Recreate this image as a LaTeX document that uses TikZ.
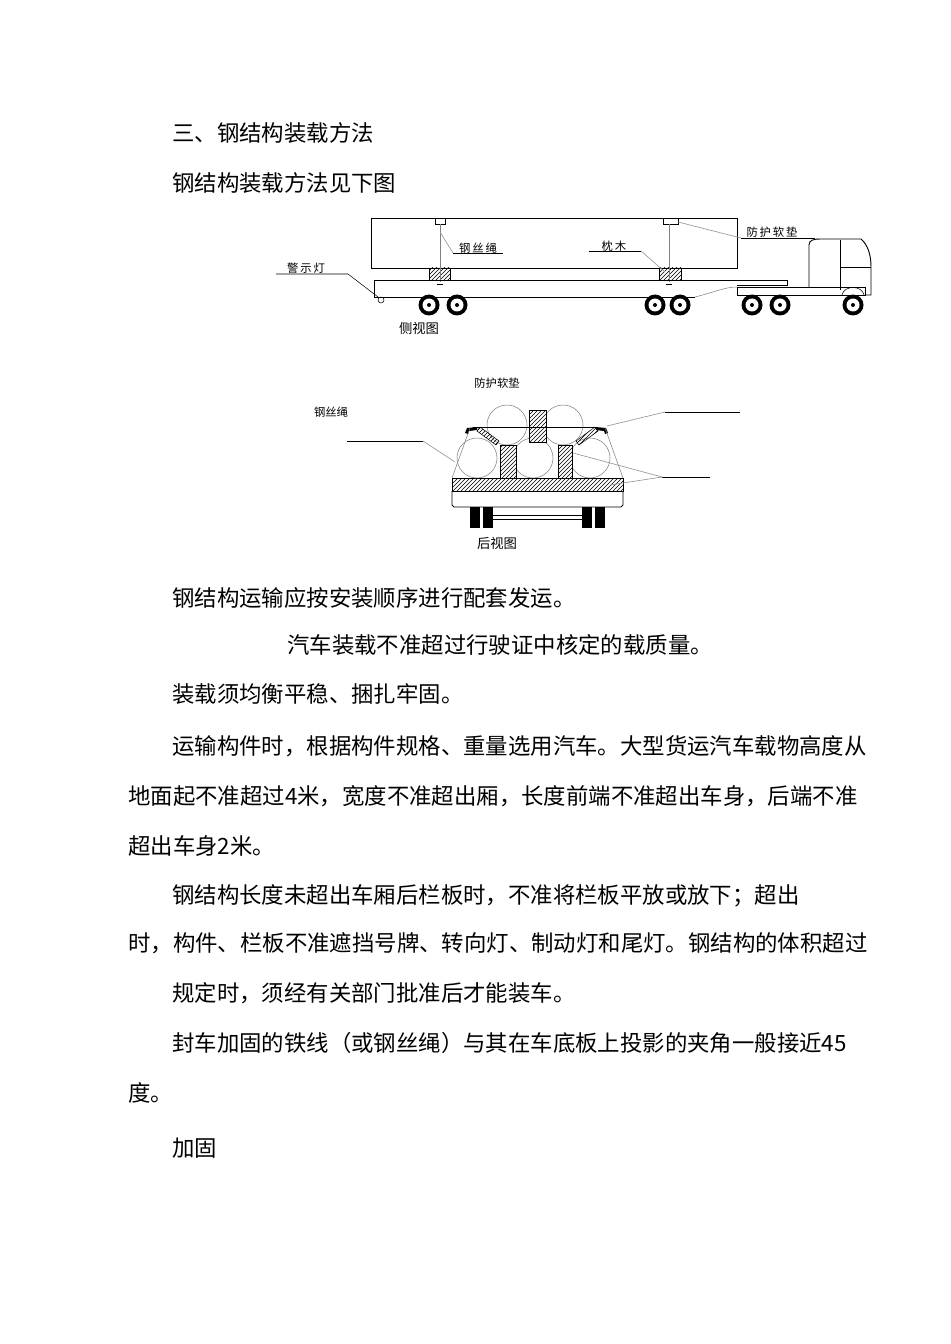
\documentclass[tikz,border=0pt]{standalone}
\usepackage{fontspec}
\newfontfamily\cjk{Noto Sans CJK SC}
\usetikzlibrary{patterns}
\tikzset{
  body/.style={anchor=west,inner sep=0pt,font=\cjk\fontsize{16.8}{18}\selectfont},
  lab/.style={inner sep=0pt,font=\cjk\fontsize{8.5}{10}\selectfont},
  lead/.style={draw=gray!80,line width=0.5pt},
  hat/.style={draw,pattern=north east lines},
  ln/.style={line width=0.7pt},
}
\begin{document}
\begin{tikzpicture}[x=0.75pt,y=-0.75pt]
\useasboundingbox (0,0) rectangle (950,1344);
% text
\node[body] (t1) at (172,133) {三、钢结构装载方法};
\node[body] (t2) at (172,183) {钢结构装载方法见下图};
\node[body] (t3) at (172,598) {钢结构运输应按安装顺序进行配套发运。};
\node[body] (t4) at (287,645) {汽车装载不准超过行驶证中核定的载质量。};
\node[body] (t5) at (172,694) {装载须均衡平稳、捆扎牢固。};
\node[body] (t6) at (172,746) {运输构件时，根据构件规格、重量选用汽车。大型货运汽车载物高度从};
\node[body] (t7) at (128,796) {地面起不准超过4米，宽度不准超出厢，长度前端不准超出车身，后端不准};
\node[body] (t8) at (128,846) {超出车身2米。};
\node[body] (t9) at (172,896) {钢结构长度未超出车厢后栏板时，不准将栏板平放或放下；超出};
\node[body] (t10) at (128,943) {时，构件、栏板不准遮挡号牌、转向灯、制动灯和尾灯。钢结构的体积超过};
\node[body] (t11) at (172,993) {规定时，须经有关部门批准后才能装车。};
\node[body] (t12) at (172,1043) {封车加固的铁线（或钢丝绳）与其在车底板上投影的夹角一般接近45};
\node[body] (t13) at (128,1093) {度。};
\node[body] (t14) at (172,1148) {加固};

% ===== side view =====
\draw[ln] (371,218) rectangle (737,268);
\draw (435,218) rectangle (445,224);
\draw (663,218) rectangle (678,224);
\draw[hat] (429,268) rectangle (450,280);
\draw[hat] (659,268) rectangle (681,280);
\draw[gray] (440,224) -- (440,282);
\draw[gray] (669,224) -- (669,282);
\draw (437,284) -- (443,284); \draw (666,284) -- (672,284);
% deck
\draw[ln] (374,280) -- (787,280) -- (787,285) -- (737,285);
\draw[ln] (374,280) -- (374,297) -- (695,297);
\draw[gray] (695,297) .. controls (715,292) and (725,287) .. (737,287);
% truck
\draw[ln] (737,287) rectangle (865,295);
\draw[ln] (809,287) -- (809,245) .. controls (809,240) and (814,239) .. (820,239)
  -- (861,239) .. controls (868,245) and (871,255) .. (871,267) -- (871,295) -- (865,295);
\draw (840,240) -- (840,290);
\draw (840,267) -- (871,267);
\draw (842,295) .. controls (844,285) and (862,285) .. (864,295);
% wheels
\foreach \i/\x in {w1/429,w2/457,w3/655,w4/680,w5/752,w6/780,w7/853}{
  \fill (\x,305) circle (10.5);
  \fill[white] (\x,305) circle (6.5);
  \fill (\x,305) circle (2);
}
% labels side
\node[lab] (l1) at (306,268) {警\,示\,灯};
\draw (276,274) -- (348,274) -- (378,297);
\draw (381,300) circle (3);
\node[lab] (l2) at (478,248) {钢\,丝\,绳};
\draw (453,253) -- (503,253);
\draw[lead] (453,253) -- (440,232);
\node[lab] (l3) at (614,246) {枕\,木};
\draw (589,251) -- (641,251);
\draw[lead] (641,251) -- (665,272);
\node[lab] (l4) at (772,232) {防\,护\,软\,垫};
\draw (741,238) -- (815,238);
\draw[lead] (741,238) -- (678,222);
\node[lab,font=\cjk\fontsize{10}{12}\selectfont] (l5) at (419,328) {侧视图};

% ===== rear view =====
\node[lab] (r1) at (497,383) {防护软垫};
\node[lab] (r2) at (331,412) {钢丝绳};
\draw[hat] (452,478) rectangle (623,491);
\draw[ln] (452,491) -- (452,505) -- (454,507) -- (621,507) -- (623,505) -- (623,491);
\foreach \x in {470,483,582,595}{\fill (\x,507) rectangle ++(10,21);}
\draw (493,515) -- (582,515); \draw (493,519) -- (582,519);
\foreach \p in {(477,458),(533,458),(590,458),(507,425),(563,425)}{\draw[gray] \p circle (20);}
\fill[white] (529,410) rectangle (546,442);
\draw[hat] (529,410) rectangle (546,442);
\fill[white] (500,445) rectangle (516,478);
\draw[hat] (500,445) rectangle (516,478);
\fill[white] (558,445) rectangle (572,478);
\draw[hat] (558,445) rectangle (572,478);
\draw[hat] (477,431) -- (480,427) -- (499,441) -- (496,445) -- cycle;
\draw[hat] (598,431) -- (595,427) -- (576,441) -- (579,445) -- cycle;
\draw (473,427) -- (597,427);
\fill (465,433) -- (467,428) -- (477,427) -- (477,430) -- (469,431) -- (468,434) -- cycle;
\fill (608,433) -- (606,428) -- (596,427) -- (596,430) -- (604,431) -- (605,434) -- cycle;
\draw[gray] (470,428) -- (452,478);
\draw[gray] (605,428) -- (623,478);
\draw (347,441) -- (423,441);
\draw[lead] (423,441) -- (455,462);
\draw (665,412) -- (740,412);
\draw[lead] (665,412) -- (607,426);
\draw (662,477) -- (710,477);
\draw[lead] (662,477) -- (573,453);
\draw[lead] (662,477) -- (610,485);
\node[lab,font=\cjk\fontsize{10}{12}\selectfont] (r3) at (497,543) {后视图};
\end{tikzpicture}
\end{document}
